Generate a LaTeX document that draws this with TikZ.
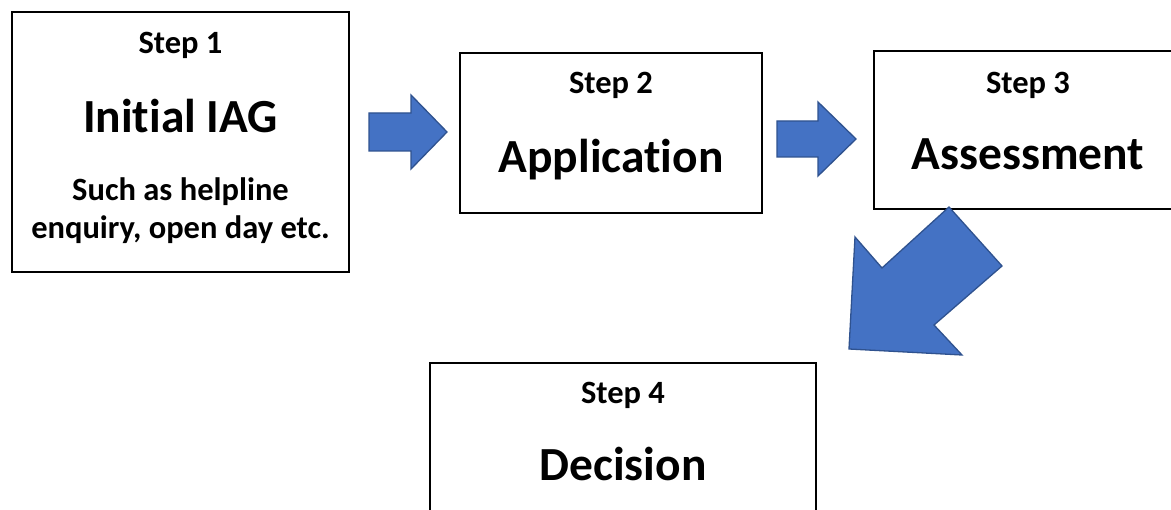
\documentclass[tikz,border=0pt]{standalone}
\usepackage{fontspec}
\setmainfont{Carlito}[Ligatures={NoCommon}]
\definecolor{arrowfill}{HTML}{4472C4}
\definecolor{arrowline}{HTML}{2F528F}
\begin{document}
\begin{tikzpicture}[x=1pt,y=-1pt,
  box/.style={draw=black,line width=1.4pt,fill=white},
  blockarrow/.style={fill=arrowfill,draw=arrowline,line width=1.3pt,line join=miter},
  small/.style={anchor=base,inner sep=0pt,font=\fontsize{32.5}{34}\selectfont\bfseries},
  big/.style={anchor=base,inner sep=0pt,font=\fontsize{47.5}{50}\selectfont\bfseries}]
\useasboundingbox (0,0) rectangle (1171,510);
\clip (0,0) rectangle (1171,510);
\fill[white] (0,0) rectangle (1171,510);
% boxes
\draw[box] (12,12) rectangle (349,272);
\draw[box] (460,53) rectangle (762,213);
\draw[box] (874,51) rectangle (1182,209);
\draw[box] (430,363) rectangle (816,530);
% arrows
\draw[blockarrow] (369,113) -- (411,113) -- (411,95) -- (447,132) -- (411,169) -- (411,151) -- (369,151) -- cycle;
\draw[blockarrow] (777,121) -- (818,121) -- (818,102) -- (856,139) -- (818,176) -- (818,157) -- (777,157) -- cycle;
\draw[blockarrow] (949,207) -- (1002,266) -- (934,325) -- (962,355) -- (849,349) -- (855,237) -- (882,268) -- cycle;
% texts
\node[small] (s1) at (180.5,54) {Step 1};
\node[big] (t1) at (180.5,133) {Initial IAG};
\node[small] (d1) at (180.5,201) {Such as helpline};
\node[small] (d2) at (180.5,239) {enquiry, open day etc.};
\node[small] (s2) at (611,94) {Step 2};
\node[big] (t2) at (611,173) {Application};
\node[small] (s3) at (1028,94) {Step 3};
\node[big] (t3) at (1028,170) {Assessment};
\node[small] (s4) at (623,404) {Step 4};
\node[big] (t4) at (623,481) {Decision};
\end{tikzpicture}
\end{document}
